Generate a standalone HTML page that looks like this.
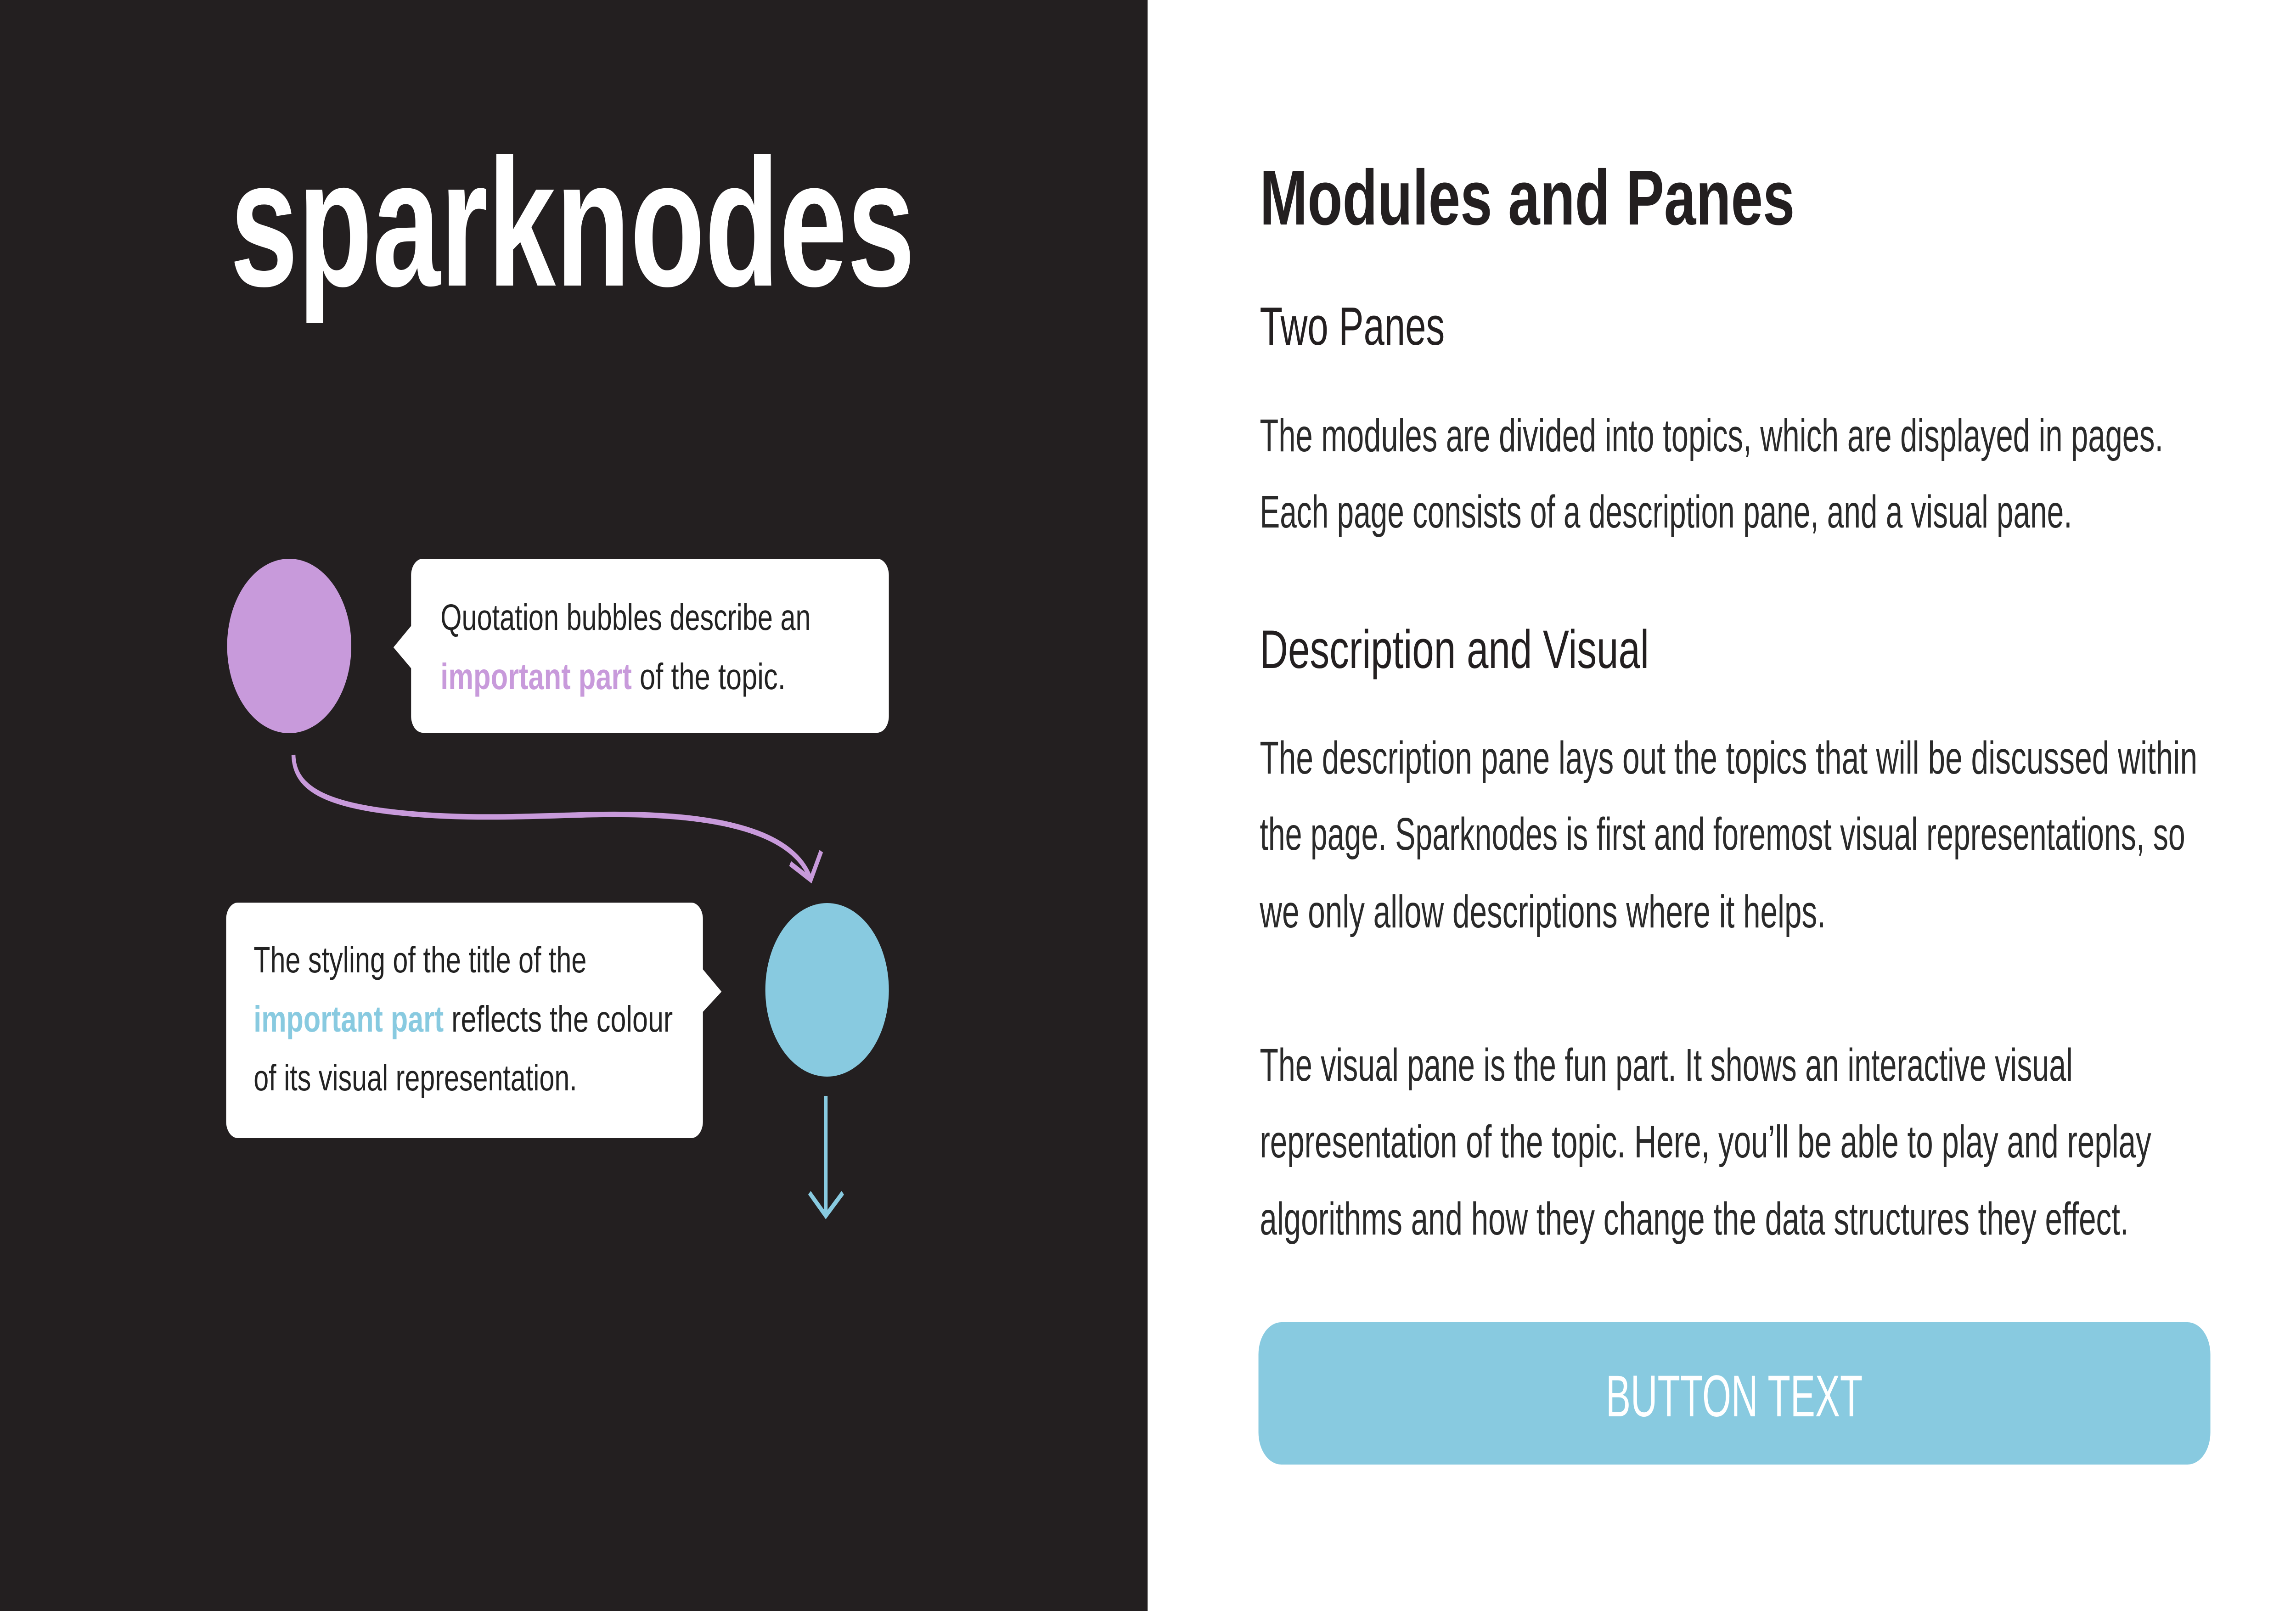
<!DOCTYPE html>
<html><head><meta charset="utf-8"><style>
html,body{margin:0;padding:0;background:#fff;width:100%;height:100%;overflow:hidden}
svg{display:block;width:100vw;height:100vh}
text{font-family:"Liberation Sans",sans-serif}
</style></head><body>
<svg viewBox="0 0 7026 3509" preserveAspectRatio="none" xmlns="http://www.w3.org/2000/svg">
<rect x="0" y="0" width="3512" height="3509" fill="#231f20"/>
<rect x="3512" y="0" width="3514" height="3509" fill="#ffffff"/>

<text x="704" y="622" font-size="395" font-weight="bold" fill="#ffffff" textLength="2096" lengthAdjust="spacingAndGlyphs">sparknodes</text>

<circle cx="885" cy="1407" r="190" fill="#c89adb"/>
<rect x="1258" y="1217" width="1462" height="379" rx="36" fill="#fff"/>
<polygon points="1262,1360 1204,1410 1262,1459" fill="#fff"/>
<text x="1348" y="1372" font-size="80" fill="#222" textLength="1133" lengthAdjust="spacingAndGlyphs">Quotation bubbles describe an</text>
<text x="1348" y="1501" font-size="80" fill="#222" textLength="1056" lengthAdjust="spacingAndGlyphs"><tspan font-weight="bold" fill="#c89adb">important part</tspan> of the topic.</text>

<path d="M898,1644 C900,1720 1000,1760 1300,1775 C1500,1785 1700,1775 1846,1774 C2100,1772 2420,1790 2481,1916" fill="none" stroke="#c89adb" stroke-width="12"/>
<polyline points="2418,1881 2481,1916 2513,1854" fill="none" stroke="#c89adb" stroke-width="12"/>

<circle cx="2531" cy="2156" r="189" fill="#88cae0"/>
<rect x="692" y="1966" width="1459" height="513" rx="36" fill="#fff"/>
<polygon points="2147,2108 2208,2160 2147,2207" fill="#fff"/>
<text x="776" y="2118" font-size="80" fill="#222" textLength="1019" lengthAdjust="spacingAndGlyphs">The styling of the title of the</text>
<text x="776" y="2247" font-size="80" fill="#222" textLength="1283" lengthAdjust="spacingAndGlyphs"><tspan font-weight="bold" fill="#88cae0">important part</tspan> reflects the colour</text>
<text x="776" y="2375" font-size="80" fill="#222" textLength="990" lengthAdjust="spacingAndGlyphs">of its visual representation.</text>

<line x1="2527" y1="2387" x2="2527" y2="2645" stroke="#88cae0" stroke-width="11"/>
<polyline points="2477,2598 2527,2648 2579,2598" fill="none" stroke="#88cae0" stroke-width="11"/>

<text x="3855" y="489" font-size="170" font-weight="bold" fill="#231f20" textLength="1637" lengthAdjust="spacingAndGlyphs">Modules and Panes</text>
<text x="3855" y="751" font-size="118" fill="#231f20" textLength="566" lengthAdjust="spacingAndGlyphs">Two Panes</text>
<text x="3855" y="983" font-size="100" fill="#2a2a2a" textLength="2765" lengthAdjust="spacingAndGlyphs">The modules are divided into topics, which are displayed in pages.</text>
<text x="3855" y="1149" font-size="100" fill="#2a2a2a" textLength="2486" lengthAdjust="spacingAndGlyphs">Each page consists of a description pane, and a visual pane.</text>
<text x="3855" y="1455" font-size="118" fill="#231f20" textLength="1191" lengthAdjust="spacingAndGlyphs">Description and Visual</text>
<text x="3855" y="1685" font-size="100" fill="#2a2a2a" textLength="2869" lengthAdjust="spacingAndGlyphs">The description pane lays out the topics that will be discussed within</text>
<text x="3855" y="1851" font-size="100" fill="#2a2a2a" textLength="2832" lengthAdjust="spacingAndGlyphs">the page. Sparknodes is first and foremost visual representations, so</text>
<text x="3855" y="2020" font-size="100" fill="#2a2a2a" textLength="1732" lengthAdjust="spacingAndGlyphs">we only allow descriptions where it helps.</text>
<text x="3855" y="2354" font-size="100" fill="#2a2a2a" textLength="2488" lengthAdjust="spacingAndGlyphs">The visual pane is the fun part. It shows an interactive visual</text>
<text x="3855" y="2521" font-size="100" fill="#2a2a2a" textLength="2728" lengthAdjust="spacingAndGlyphs">representation of the topic. Here, you’ll be able to play and replay</text>
<text x="3855" y="2689" font-size="100" fill="#2a2a2a" textLength="2659" lengthAdjust="spacingAndGlyphs">algorithms and how they change the data structures they effect.</text>

<rect x="3851" y="2880" width="2913" height="310" rx="70" fill="#88cae0"/>
<text x="4914" y="3085" font-size="128" fill="#ffffff" textLength="786" lengthAdjust="spacingAndGlyphs">BUTTON TEXT</text>
</svg>
</body></html>
